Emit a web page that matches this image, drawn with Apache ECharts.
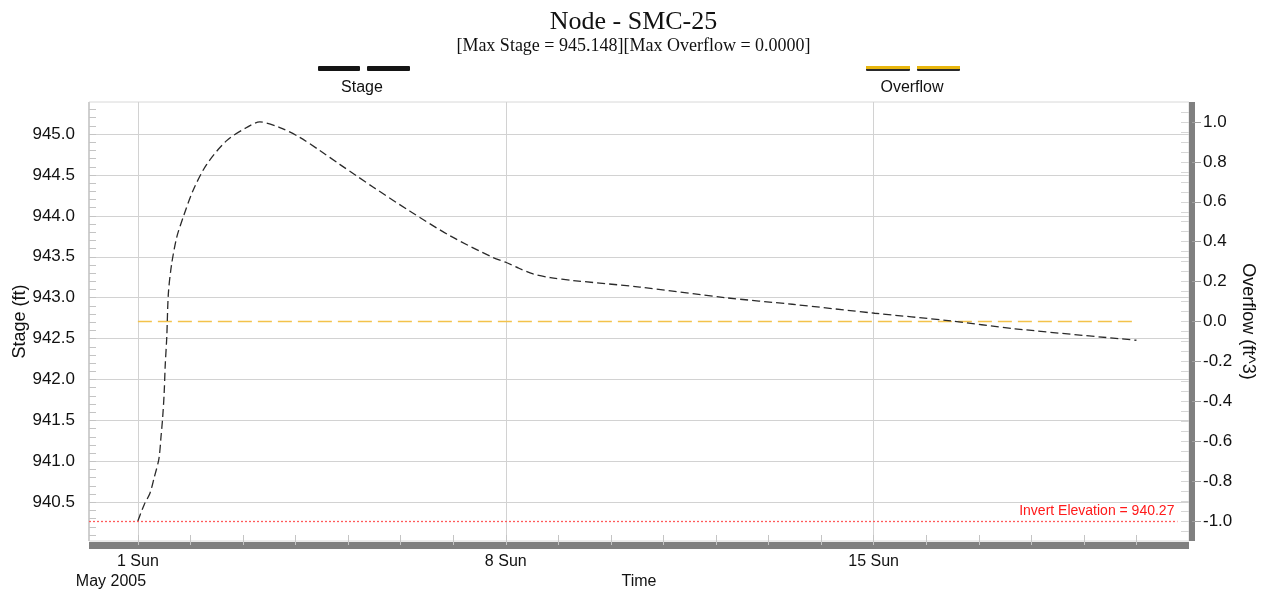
<!DOCTYPE html>
<html>
<head>
<meta charset="utf-8">
<script src="https://cdn.jsdelivr.net/npm/echarts@6/dist/echarts.min.js"></script>
<style>html,body{margin:0;padding:0;background:#fff}#c{width:1267px;height:597px}</style>
</head>
<body>
<div id="c"></div>
<script>
// ---- data (days since 2005-05-01 00:00) ----
const stageDays = [0, 0.12, 0.23, 0.31, 0.40, 0.44, 0.47, 0.50, 0.52, 0.55, 0.58, 0.64, 0.74, 0.86, 1.05, 1.31, 1.69, 2.07, 2.32, 2.70, 3.08, 3.46, 3.84, 4.16, 4.48, 5.17, 5.93, 6.76, 7.01, 7.25, 7.52, 7.85, 8.28, 9.55, 11.18, 12.45, 14.02, 15.42, 16.69, 19.0];
const stageValues = [940.27, 940.47, 940.61, 940.80, 941.03, 941.30, 941.52, 941.83, 942.17, 942.52, 943.05, 943.40, 943.74, 943.98, 944.31, 944.63, 944.92, 945.08, 945.148, 945.08, 944.96, 944.80, 944.63, 944.49, 944.35, 944.06, 943.76, 943.49, 943.43, 943.36, 943.29, 943.245, 943.21, 943.13, 943.00, 942.92, 942.81, 942.72, 942.62, 942.48];
const overflowDays = [0, 19];
const overflowValues = [0.0, 0.0];
const stageTickLabels = [940.5, 941.0, 941.5, 942.0, 942.5, 943.0, 943.5, 944.0, 944.5, 945.0];
const overflowTickLabels = [-1.0, -0.8, -0.6, -0.4, -0.2, 0.0, 0.2, 0.4, 0.6, 0.8, 1.0];
const weekLabelDays = [0, 7, 14];
const invertElevation = 940.27;
const startDateUTC = Date.UTC(2005, 4, 1);

// ---- layout ----
const X_MIN = -0.93, X_MAX = 20.0;
const Y_MIN = 940.026, Y_MAX = 945.392;
const R_MIN = -1.1, R_MAX = 1.1;
const SANS = '"Liberation Sans", Arial, sans-serif';
const SERIF = '"Liberation Serif", "Times New Roman", serif';

const dayTicks = [];
for (let d = 0; d <= 19; d++) dayTicks.push(d);
const leftMinor = [];
for (let i = 1; i <= 53; i++) leftMinor.push(+(940 + i * 0.1).toFixed(1));
const rightMinor = [];
for (let i = -21; i <= 21; i++) rightMinor.push(+(i * 0.05).toFixed(2));

const dayNames = ['Sun', 'Mon', 'Tue', 'Wed', 'Thu', 'Fri', 'Sat'];
function dayLabel(v) {
  const d = new Date(startDateUTC + v * 86400000);
  return d.getUTCDate() + ' ' + dayNames[d.getUTCDay()];
}

const chart = echarts.init(document.getElementById('c'), null, {renderer: 'canvas'});
chart.setOption({
  animation: false,
  backgroundColor: '#ffffff',
  title: {
    text: 'Node - SMC-25',
    subtext: '[Max Stage = 945.148][Max Overflow = 0.0000]',
    left: 'center', top: 4, itemGap: 2,
    textStyle: {fontFamily: SERIF, fontSize: 26, fontWeight: 'normal', color: '#111'},
    subtextStyle: {fontFamily: SERIF, fontSize: 18, color: '#111'}
  },
  grid: {left: 89, top: 102, width: 1100, height: 439, show: true, borderColor: '#d8d8d8', borderWidth: 1, backgroundColor: '#fff', containLabel: false, outerBoundsMode: 'none'},
  xAxis: [
    {
      type: 'value', min: X_MIN, max: X_MAX, position: 'bottom', offset: 4,
      axisLine: {show: true, onZero: false, lineStyle: {color: '#808080', width: 7, cap: 'butt'}},
      axisTick: {show: true, inside: true, length: 10, customValues: dayTicks, lineStyle: {color: '#c4c4c4', width: 1}},
      axisLabel: {customValues: weekLabelDays, formatter: dayLabel, fontFamily: SANS, fontSize: 16, color: '#111', margin: 9},
      splitLine: {show: false},
      name: 'Time', nameLocation: 'middle', nameGap: 29, nameMoveOverlap: false,
      nameTextStyle: {fontFamily: SANS, fontSize: 16, color: '#111'}
    },
    {
      type: 'value', min: X_MIN, max: X_MAX, position: 'bottom',
      axisLine: {show: false, onZero: false},
      axisTick: {show: false, customValues: weekLabelDays},
      axisLabel: {show: false},
      splitLine: {show: true, lineStyle: {color: '#d2d2d2', width: 1}}
    }
  ],
  yAxis: [
    {
      type: 'value', position: 'left', min: Y_MIN, max: Y_MAX,
      axisLine: {show: true, onZero: false, lineStyle: {color: '#cfcfcf', width: 2, cap: 'butt'}},
      axisTick: {show: true, inside: true, length: 7, customValues: leftMinor, lineStyle: {color: '#c4c4c4'}},
      axisLabel: {customValues: stageTickLabels, formatter: v => v.toFixed(1), fontFamily: SANS, fontSize: 17, color: '#111', margin: 14},
      splitLine: {show: false},
      name: 'Stage (ft)', nameLocation: 'middle', nameGap: 60, nameRotate: 90, nameMoveOverlap: false,
      nameTextStyle: {fontFamily: SANS, fontSize: 18, color: '#111'}
    },
    {
      type: 'value', position: 'right', min: R_MIN, max: R_MAX, offset: 3,
      axisLine: {show: true, onZero: false, lineStyle: {color: '#808080', width: 6, cap: 'butt'}},
      axisTick: {show: true, inside: false, length: 9, customValues: overflowTickLabels, lineStyle: {color: '#a0a0a0'}},
      axisLabel: {customValues: overflowTickLabels, formatter: v => v.toFixed(1), fontFamily: SANS, fontSize: 17, color: '#111', margin: 11, align: 'left'},
      splitLine: {show: false},
      name: 'Overflow (ft^3)', nameLocation: 'middle', nameGap: 47, nameRotate: -90, nameMoveOverlap: false,
      nameTextStyle: {fontFamily: SANS, fontSize: 18, color: '#111'}
    },
    {
      type: 'value', position: 'left', min: Y_MIN, max: Y_MAX,
      axisLine: {show: false, onZero: false},
      axisTick: {show: false, customValues: stageTickLabels},
      axisLabel: {show: false},
      splitLine: {show: true, lineStyle: {color: '#d2d2d2', width: 1}}
    },
    {
      type: 'value', position: 'right', min: R_MIN, max: R_MAX,
      axisLine: {show: false, onZero: false},
      axisTick: {show: true, inside: true, length: 8, customValues: rightMinor, lineStyle: {color: '#d6d6d6'}},
      axisLabel: {show: false},
      splitLine: {show: false}
    }
  ],
  series: [
    {
      name: 'Overflow', type: 'line', xAxisIndex: 0, yAxisIndex: 1, z: 3,
      data: overflowValues.map((v, i) => [overflowDays[i], v]),
      symbol: 'none', lineStyle: {color: '#f3c24a', width: 1.5, type: [14, 6]}
    },
    {
      name: 'Stage', type: 'line', xAxisIndex: 0, yAxisIndex: 0, z: 4,
      data: stageValues.map((v, i) => [stageDays[i], v]),
      symbol: 'none', smooth: 0.3,
      lineStyle: {color: '#2a2a2a', width: 1.3, type: [8, 4]},
      markLine: {
        silent: true, symbol: ['none', 'none'],
        lineStyle: {color: '#ff5a5a', type: [2, 2], width: 1.3},
        label: {show: true, position: 'insideEndTop', formatter: 'Invert Elevation = ' + invertElevation.toFixed(2), color: '#ff1a1a', fontFamily: SANS, fontSize: 14, distance: 3},
        data: [[{coord: [X_MIN, invertElevation]}, {coord: [19.78, invertElevation]}]]
      }
    }
  ],
  graphic: [
    {type: 'rect', shape: {x: 318, y: 66, width: 42, height: 5, r: 1}, style: {fill: '#151515'}},
    {type: 'rect', shape: {x: 367, y: 66, width: 43, height: 5, r: 1}, style: {fill: '#151515'}},
    {type: 'text', x: 362, y: 88, style: {text: 'Stage', font: '16px ' + SANS, fill: '#111', align: 'center', verticalAlign: 'middle'}},
    {type: 'rect', shape: {x: 866, y: 66, width: 44, height: 5, r: 1}, style: {fill: '#2a2a2a'}},
    {type: 'rect', shape: {x: 917, y: 66, width: 43, height: 5, r: 1}, style: {fill: '#2a2a2a'}},
    {type: 'rect', shape: {x: 866, y: 66, width: 44, height: 3}, style: {fill: '#e8b60e'}},
    {type: 'rect', shape: {x: 917, y: 66, width: 43, height: 3}, style: {fill: '#e8b60e'}},
    {type: 'text', x: 912, y: 88, style: {text: 'Overflow', font: '16px ' + SANS, fill: '#111', align: 'center', verticalAlign: 'middle'}},
    {type: 'text', x: 111, y: 582, style: {text: 'May 2005', font: '16px ' + SANS, fill: '#111', align: 'center', verticalAlign: 'middle'}}
  ]
});
</script>
</body>
</html>
